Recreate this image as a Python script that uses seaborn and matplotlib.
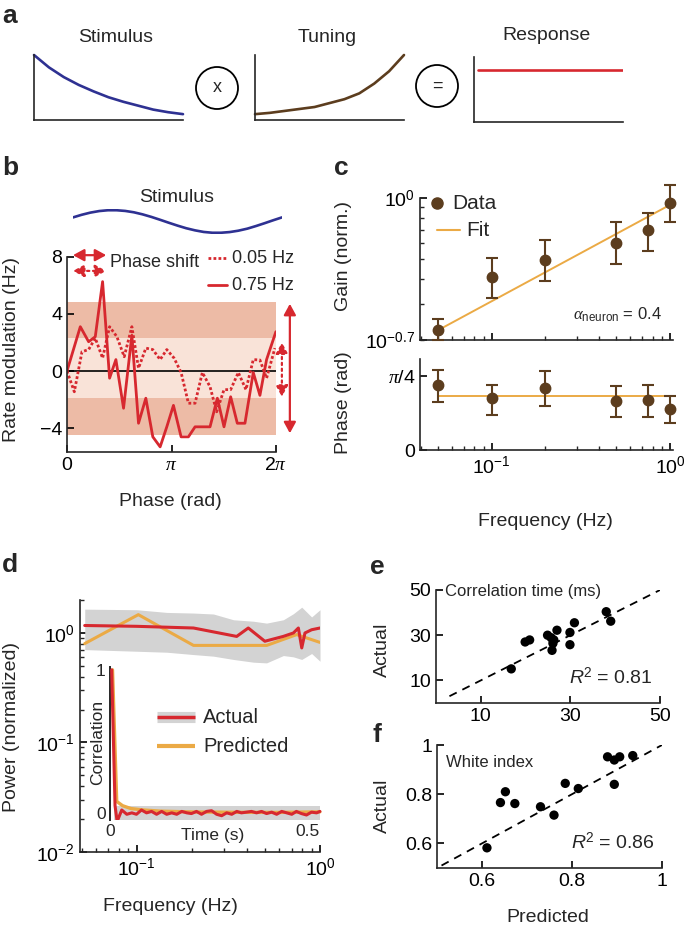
import matplotlib
matplotlib.use('Agg')
import matplotlib.pyplot as plt
import seaborn as sns
from matplotlib.patches import Circle
from matplotlib.ticker import NullFormatter

# ---- a: schematic curves (normalised 0..1) ----
a_x = [0.0, 0.1, 0.2, 0.3, 0.4, 0.5, 0.6, 0.7, 0.8, 0.9, 1.0]
a_stimulus = [1.00, 0.81, 0.66, 0.54, 0.44, 0.35, 0.28, 0.22, 0.16, 0.12, 0.09]
a_tuning = [0.09, 0.11, 0.14, 0.17, 0.20, 0.26, 0.32, 0.41, 0.56, 0.75, 1.00]
a_resp_x = [0.03, 1.0]
a_response = [0.8, 0.8]

# ---- b: stimulus and rate modulation vs phase ----
b_stim_phase = [0.00, 0.26, 0.52, 0.79, 1.05, 1.31, 1.57, 1.83, 2.09, 2.36, 2.62, 2.88, 3.14,
                3.40, 3.67, 3.93, 4.19, 4.45, 4.71, 4.97, 5.24, 5.50, 5.76, 6.02, 6.28]
b_stim = [0.36, 0.59, 0.78, 0.92, 0.99, 0.99, 0.93, 0.81, 0.63, 0.40, 0.15, -0.11, -0.36,
          -0.59, -0.78, -0.92, -0.99, -0.99, -0.93, -0.81, -0.63, -0.40, -0.15, 0.11, 0.36]

b_phase_fast = [0.00, 0.40, 0.65, 0.85, 1.07, 1.28, 1.47, 1.70, 1.95, 2.15, 2.37, 2.58, 2.80,
                3.00, 3.20, 3.43, 3.65, 3.85, 4.05, 4.30, 4.52, 4.72, 4.92, 5.12, 5.35, 5.60,
                5.80, 6.00, 6.28]
b_rate_fast = [0.0, 3.1, 2.05, 2.4, 6.25, -0.5, 0.8, -2.6, 2.5, -3.65, -1.9, -4.6, -5.3,
               -3.9, -2.4, -4.6, -4.6, -3.9, -3.9, -3.9, -1.9, -3.9, -1.8, -3.65, -3.65, -0.1,
               -1.7, 0.8, 2.75]
b_phase_slow = [0.00, 0.22, 0.45, 0.65, 0.85, 1.07, 1.28, 1.50, 1.72, 1.95, 2.15, 2.37, 2.58,
                2.80, 3.00, 3.22, 3.43, 3.65, 3.85, 4.07, 4.30, 4.50, 4.72, 4.92, 5.15, 5.38,
                5.60, 5.80, 6.00, 6.25]
b_rate_slow = [0.0, -1.45, 1.35, 1.5, 2.3, 0.9, 3.1, 2.4, 1.0, 3.1, 0.2, 1.6, 1.5, 0.8, 1.5,
               0.9, -0.1, -2.25, -2.25, -0.1, -1.1, -2.85, -1.3, -1.3, -0.1, -1.3, 0.8, 0.77,
               -0.5, 1.6]
b_band_fast = [-4.5, 4.8]
b_band_slow = [-1.9, 2.3]

# ---- c: gain and phase vs frequency ----
c_freq = [0.05, 0.1, 0.2, 0.5, 0.75, 1.0]
c_gain = [0.223, 0.407, 0.496, 0.600, 0.697, 0.952]
c_gain_lo = [0.200, 0.323, 0.388, 0.473, 0.551, 0.767]
c_gain_hi = [0.253, 0.505, 0.622, 0.767, 0.849, 1.164]
c_fit_freq = [0.05, 1.0]
c_fit_gain = [0.223, 0.927]
c_phase = [0.696, 0.553, 0.657, 0.517, 0.535, 0.439]
c_phase_lo = [0.511, 0.375, 0.464, 0.357, 0.357, 0.293]
c_phase_hi = [0.849, 0.696, 0.838, 0.678, 0.689, 0.571]
c_fit_phase = [0.571, 0.571]

# ---- d: power spectra + inset autocorrelation ----
d_freq_act = [0.052, 0.1, 0.204, 0.351, 0.406, 0.50, 0.63, 0.716, 0.762, 0.795, 0.828, 0.90, 1.0]
d_pow_act = [1.17, 1.15, 1.11, 0.93, 1.11, 0.84, 0.93, 1.0, 1.11, 0.73, 1.0, 1.07, 1.11]
d_freq_pred = [0.052, 0.102, 0.204, 0.512, 0.746, 1.0]
d_pow_pred = [0.80, 1.47, 0.77, 0.77, 0.966, 0.82]
d_freq_band = [0.052, 0.1, 0.146, 0.204, 0.262, 0.337, 0.433, 0.511, 0.631, 0.716, 0.795, 0.90, 1.0]
d_band_hi = [1.65, 1.63, 1.54, 1.52, 1.49, 1.32, 1.28, 1.23, 1.32, 1.50, 1.72, 1.40, 1.63]
d_band_lo = [0.705, 0.681, 0.667, 0.635, 0.614, 0.573, 0.541, 0.533, 0.622, 0.605, 0.573, 0.649, 0.552]

d_lag_act = [0.004, 0.012, 0.017, 0.028, 0.040, 0.052, 0.063, 0.075, 0.087, 0.099, 0.111, 0.123,
             0.135, 0.147, 0.159, 0.171, 0.183, 0.194, 0.206, 0.218, 0.230, 0.242, 0.254, 0.266,
             0.278, 0.290, 0.302, 0.313, 0.325, 0.337, 0.349, 0.361, 0.373, 0.385, 0.397, 0.409,
             0.421, 0.433, 0.444, 0.456, 0.468, 0.480, 0.492, 0.500]
d_corr_act = [1.0, 0.05, -0.06, 0.02, -0.01, 0.0, -0.01, 0.02, 0.0, 0.01, -0.01, 0.01,
              -0.01, 0.0, -0.01, 0.01, 0.0, -0.005, 0.01, -0.01, 0.01, 0.015, -0.01, -0.02,
              0.0, -0.01, 0.01, 0.0, 0.005, 0.01, 0.0, 0.01, -0.005, 0.005, -0.01, 0.01,
              0.0, -0.01, 0.01, -0.005, -0.015, 0.005, 0.0, 0.01]
d_lag_pred = [0.006, 0.016, 0.03, 0.05, 0.08, 0.12, 0.2, 0.3, 0.4, 0.5]
d_corr_pred = [1.0, 0.08, 0.05, 0.03, 0.02, 0.012, 0.006, 0.004, 0.003, 0.007]
d_lag_band = [0.01, 0.5]
d_corr_band_lo = [-0.047, -0.047]
d_corr_band_hi = [0.047, 0.047]

# ---- e, f: predicted vs actual ----
e_pred = [16.8, 19.9, 20.9, 24.9, 25.7, 26.3, 26.1, 27.0, 25.9, 29.9, 30.9, 29.9, 38.0, 39.0]
e_act = [15.1, 27.0, 27.9, 30.0, 28.9, 27.9, 26.4, 32.2, 23.3, 31.2, 35.5, 25.8, 40.4, 36.2]
e_diag = [3, 50]
f_pred = [0.611, 0.641, 0.652, 0.673, 0.730, 0.760, 0.785, 0.814, 0.879, 0.894, 0.906, 0.894, 0.935]
f_act = [0.582, 0.766, 0.810, 0.762, 0.749, 0.715, 0.844, 0.823, 0.952, 0.939, 0.952, 0.840, 0.957]
f_diag = [0.51, 1.0]

navy = '#2E3192'
brown = '#5C3D1E'
red = '#D7282F'
orange = '#EBAA45'
band_dark = '#EDBBA6'
band_light = '#F9E3D8'
gray = '#D3D3D3'

sns.set_theme(style='ticks', rc={'axes.linewidth': 1.2, 'xtick.direction': 'in',
                                 'ytick.direction': 'in', 'xtick.major.width': 1.2,
                                 'ytick.major.width': 1.2, 'xtick.minor.width': 1.0,
                                 'ytick.minor.width': 1.0, 'xtick.major.size': 5,
                                 'ytick.major.size': 5, 'xtick.minor.size': 3,
                                 'ytick.minor.size': 3})
plt.rcParams['font.family'] = ['Liberation Sans', 'DejaVu Sans']
plt.rcParams['font.size'] = 14
plt.rcParams['mathtext.fontset'] = 'custom'
plt.rcParams['mathtext.rm'] = 'Liberation Sans'
plt.rcParams['mathtext.it'] = 'Liberation Serif:italic'
plt.rcParams['mathtext.sf'] = 'Liberation Sans:italic'

W, H = 685, 930
LAB = 14
fig = plt.figure(figsize=(W / 100, H / 100), dpi=100)


def px_axes(x0, y0, x1, y1):
    return fig.add_axes([x0 / W, 1 - y1 / H, (x1 - x0) / W, (y1 - y0) / H])


def ftext(x, y, s, **kw):
    kw.setdefault('ha', 'center')
    kw.setdefault('va', 'center')
    kw.setdefault('fontsize', LAB)
    fig.text(x / W, 1 - y / H, s, **kw)


def clean(ax, ticks=True):
    sns.despine(ax=ax)
    ax.tick_params(labelsize=14, colors='black')
    ax.set_xlabel('')
    ax.set_ylabel('')
    if not ticks:
        ax.set_xticks([])
        ax.set_yticks([])


# ================= a =================
for x0, yv, col in [(34, a_stimulus, navy), (255, a_tuning, brown)]:
    ax = px_axes(x0, 55, x0 + 149, 120)
    sns.lineplot(x=a_x, y=yv, ax=ax, color=col, lw=1.9, estimator=None, legend=False, clip_on=False)
    ax.set_xlim(0, 1)
    ax.set_ylim(0, 1)
    clean(ax, ticks=False)
ax = px_axes(474, 57, 623, 122)
sns.lineplot(x=a_resp_x, y=a_response, ax=ax, color=red, lw=1.9, estimator=None, legend=False)
ax.set_xlim(0, 1)
ax.set_ylim(0, 1)
clean(ax, ticks=False)

ftext(116, 37, 'Stimulus')
ftext(327, 37, 'Tuning')
ftext(546, 36, 'Response')

# ================= b =================
ax = px_axes(73, 209, 282, 234)
sns.lineplot(x=b_stim_phase, y=b_stim, ax=ax, color=navy, lw=1.9, estimator=None, legend=False)
ax.set_xlim(0, 6.2832)
ax.set_ylim(-1.1, 1.1)
ax.axis('off')
ftext(177, 198, 'Stimulus')

ax_b = px_axes(67, 256.6, 276, 452)
ax_b.axhspan(b_band_fast[0], b_band_fast[1], color=band_dark, lw=0, zorder=0)
ax_b.axhspan(b_band_slow[0], b_band_slow[1], color=band_light, lw=0, zorder=0.5)
ax_b.axhline(0, color='black', lw=1.2, zorder=1)
dot = (0, (1, 0.8))
sns.lineplot(x=b_phase_slow, y=b_rate_slow, ax=ax_b, color=red, lw=2, linestyle=dot,
             estimator=None, sort=False, legend=False)
sns.lineplot(x=b_phase_fast, y=b_rate_fast, ax=ax_b, color=red, lw=2,
             estimator=None, sort=False, legend=False)
ax_b.set_xlim(0, 6.2832)
ax_b.set_ylim(-5.66, 8.0)
ax_b.set_xticks([0, 3.1416, 6.2832])
ax_b.set_xticklabels(['0', r'$\pi$', r'$2\pi$'])
ax_b.set_yticks([-4, 0, 4, 8])
ax_b.set_yticklabels(['\u22124', '0', '4', '8'])
clean(ax_b)
ftext(12, 349, 'Rate modulation (Hz)', rotation=90)
ftext(170, 501, 'Phase (rad)')

arr = dict(arrowstyle='<|-|>,head_length=0.55,head_width=0.3', color=red, lw=1.6,
           mutation_scale=12, shrinkA=0, shrinkB=0)
ax_b.annotate('', xy=(1.18, 8.1), xytext=(0.18, 8.1), arrowprops=arr, annotation_clip=False)
ax_b.annotate('', xy=(1.18, 7.0), xytext=(0.18, 7.0), arrowprops=dict(arr, linestyle=':'),
              annotation_clip=False)
ax_b.annotate('', xy=(6.70, 4.7), xytext=(6.70, -4.35), arrowprops=arr, annotation_clip=False)
ax_b.annotate('', xy=(6.46, 2.0), xytext=(6.46, -1.8), arrowprops=dict(arr, linestyle=':'),
              annotation_clip=False)

# ================= c =================
ax_c1 = px_axes(420, 182, 673, 340)
ax_c1.set_xscale('log')
ax_c1.set_yscale('log')
sns.lineplot(x=c_fit_freq, y=c_fit_gain, ax=ax_c1, color=orange, lw=1.4, estimator=None,
             legend=False, zorder=2)
yerr = [[g - lo for g, lo in zip(c_gain, c_gain_lo)], [hi - g for g, hi in zip(c_gain, c_gain_hi)]]
ax_c1.errorbar(c_freq, c_gain, yerr=yerr, fmt='o', color=brown, ms=7.5, capsize=4.5,
               elinewidth=1.5, capthick=1.5, clip_on=False, zorder=3)
ax_c1.set_xlim(0.0396, 1.04)
ax_c1.set_ylim(10 ** -0.7, 10 ** 0.08)
clean(ax_c1)
ax_c1.spines['left'].set_bounds(10 ** -0.7, 1.0)
ax_c1.set_yticks([10 ** -0.7, 1.0])
ax_c1.set_yticklabels([r'$10^{-0.7}$', r'$10^{0}$'])
ax_c1.yaxis.set_minor_formatter(NullFormatter())
ax_c1.xaxis.set_major_formatter(NullFormatter())
ax_c1.xaxis.set_minor_formatter(NullFormatter())
ax_c1.text(0.78, 0.16, r'$\alpha_{\rm neuron}$ = 0.4', transform=ax_c1.transAxes,
           ha='center', va='center', fontsize=12)
ftext(343, 256, 'Gain (norm.)', rotation=90)

ax_c2 = px_axes(420, 359, 673, 450)
ax_c2.set_xscale('log')
sns.lineplot(x=c_fit_freq, y=c_fit_phase, ax=ax_c2, color=orange, lw=1.4, estimator=None,
             legend=False, zorder=2)
perr = [[p - lo for p, lo in zip(c_phase, c_phase_lo)], [hi - p for p, hi in zip(c_phase, c_phase_hi)]]
ax_c2.errorbar(c_freq, c_phase, yerr=perr, fmt='o', color=brown, ms=7.5, capsize=4.5,
               elinewidth=1.5, capthick=1.5, clip_on=False, zorder=3)
ax_c2.set_xlim(0.0396, 1.04)
ax_c2.set_ylim(0, 0.97)
clean(ax_c2)
ax_c2.xaxis.set_minor_formatter(NullFormatter())
ax_c2.set_yticks([0, 0.7854])
ax_c2.set_yticklabels(['0', r'$\pi$/4'])
ftext(343, 403, 'Phase (rad)', rotation=90)
ftext(545, 521, 'Frequency (Hz)')

# ================= d =================
ax_d = px_axes(80, 600, 320, 852)
ax_d.set_xscale('log')
ax_d.set_yscale('log')
ax_d.fill_between(d_freq_band, d_band_lo, d_band_hi, color=gray, lw=0, zorder=1)
sns.lineplot(x=d_freq_act, y=d_pow_act, ax=ax_d, color=red, lw=2.2, estimator=None,
             legend=False, zorder=3)
sns.lineplot(x=d_freq_pred, y=d_pow_pred, ax=ax_d, color=orange, lw=2.2, estimator=None,
             legend=False, zorder=2)
ax_d.set_xlim(0.049, 1.0)
ax_d.set_ylim(0.01, 2.0)
clean(ax_d)
ax_d.xaxis.set_minor_formatter(NullFormatter())
ax_d.yaxis.set_minor_formatter(NullFormatter())
ftext(12, 727, 'Power (normalized)', rotation=90)
ftext(170, 906, 'Frequency (Hz)')

ax_in = px_axes(110, 667, 322, 820)
ax_in.patch.set_alpha(0)
ax_in.fill_between(d_lag_band, d_corr_band_lo, d_corr_band_hi, color=gray, lw=0, zorder=1)
sns.lineplot(x=d_lag_pred, y=d_corr_pred, ax=ax_in, color=orange, lw=2.4, estimator=None,
             legend=False, zorder=2)
sns.lineplot(x=d_lag_act, y=d_corr_act, ax=ax_in, color=red, lw=2.2, estimator=None,
             legend=False, zorder=3)
ax_in.set_xlim(0, 0.505)
ax_in.set_ylim(-0.05, 1.02)
sns.despine(ax=ax_in, bottom=True)
ax_in.spines['left'].set_linewidth(1.4)
ax_in.set_yticks([0, 1])
ax_in.set_xticks([0, 0.5])
ax_in.set_xticklabels(['0', '0.5'])
ax_in.get_xticklabels()[1].set_ha('right')
ax_in.tick_params(length=0, labelsize=12.5, pad=3)
ax_in.set_xlabel('')
ax_in.set_ylabel('')
ftext(213, 835, 'Time (s)', fontsize=12.5)
ftext(98, 742, 'Correlation', rotation=90, fontsize=12.5)

# ================= e =================
ax_e = px_axes(436, 590, 660, 703)
sns.lineplot(x=e_diag, y=e_diag, ax=ax_e, color='black', lw=1.3, linestyle=(0, (4.5, 3.5)),
             estimator=None, legend=False)
sns.scatterplot(x=e_pred, y=e_act, ax=ax_e, color='black', s=45, edgecolor='none', zorder=3)
ax_e.set_xlim(0, 50)
ax_e.set_ylim(0, 50)
clean(ax_e)
ax_e.set_xticks([10, 30, 50])
ax_e.set_yticks([10, 30, 50])
ax_e.text(0.04, 0.99, 'Correlation time (ms)', transform=ax_e.transAxes, ha='left',
          va='center', fontsize=12)
ax_e.text(0.78, 0.23, r'$\mathsf{R}^2$ = 0.81', transform=ax_e.transAxes, ha='center',
          va='center', fontsize=14)
ftext(382, 650, 'Actual', rotation=90)

# ================= f =================
ax_f = px_axes(437, 745, 662, 868)
sns.lineplot(x=f_diag, y=f_diag, ax=ax_f, color='black', lw=1.3, linestyle=(0, (4.5, 3.5)),
             estimator=None, legend=False)
sns.scatterplot(x=f_pred, y=f_act, ax=ax_f, color='black', s=45, edgecolor='none', zorder=3)
ax_f.set_xlim(0.5, 1.0)
ax_f.set_ylim(0.5, 1.0)
clean(ax_f)
ax_f.set_xticks([0.6, 0.8, 1.0])
ax_f.set_xticklabels(['0.6', '0.8', '1'])
ax_f.set_yticks([0.6, 0.8, 1.0])
ax_f.set_yticklabels(['0.6', '0.8', '1'])
ax_f.text(0.04, 0.86, 'White index', transform=ax_f.transAxes, ha='left', va='center',
          fontsize=12)
ax_f.text(0.78, 0.21, r'$\mathsf{R}^2$ = 0.86', transform=ax_f.transAxes, ha='center',
          va='center', fontsize=14)
ftext(382, 806, 'Actual', rotation=90)
ftext(548, 917, 'Predicted')

# ---- overlay in figure pixels: circles, hand-placed legends ----
ov = fig.add_axes([0, 0, 1, 1])
ov.set_xlim(0, W)
ov.set_ylim(H, 0)
ov.axis('off')
ov.set_zorder(10)
for cx, cy, sym in [(217, 88, 'x'), (437, 86, '=')]:
    ov.add_patch(Circle((cx, cy), 21, fill=False, lw=1.3, ec='black'))
    ov.text(cx, cy, sym, ha='center', va='center', fontsize=13)

# b legend
ov.plot([208, 227], [258, 258], color=red, lw=2, linestyle=dot)
ov.plot([208, 227], [285, 285], color=red, lw=2)
ov.text(232, 258, '0.05 Hz', ha='left', va='center', fontsize=13)
ov.text(232, 285, '0.75 Hz', ha='left', va='center', fontsize=13)
ov.text(110, 262, 'Phase shift', ha='left', va='center', fontsize=13)

# c legend
ov.plot([437], [203], 'o', color=brown, ms=8)
ov.plot([437, 460], [230, 230], color=orange, lw=1.5)
ov.text(452, 203, 'Data', ha='left', va='center', fontsize=15)
ov.text(466, 230, 'Fit', ha='left', va='center', fontsize=15)

# d legend
ov.plot([157, 195], [717, 717], color=gray, lw=8, solid_capstyle='butt')
ov.plot([157, 195], [717, 717], color=red, lw=2.5, solid_capstyle='butt')
ov.plot([157, 195], [746, 746], color=orange, lw=3, solid_capstyle='butt')
ov.text(203, 717, 'Actual', ha='left', va='center', fontsize=14.5)
ov.text(203, 746, 'Predicted', ha='left', va='center', fontsize=14.5)

# panel letters
for x, y, s in [(10, 16, 'a'), (10, 168, 'b'), (341, 168, 'c'), (10, 565, 'd'),
                (377, 567, 'e'), (377, 735, 'f')]:
    ftext(x, y, s, fontsize=19, fontweight='bold')

fig.savefig('out.png', dpi=100)
